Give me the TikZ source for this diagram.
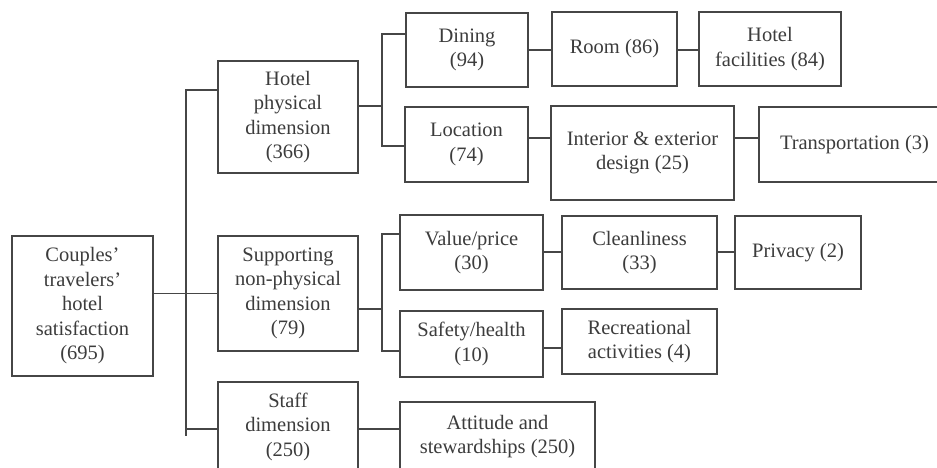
\documentclass[tikz,border=0pt]{standalone}
\usepackage{fontspec}
\setmainfont{Liberation Serif}
\definecolor{ink}{RGB}{60,60,60}
\definecolor{lineink}{RGB}{70,70,70}
\begin{document}
\begin{tikzpicture}[x=1pt,y=-1pt,
  box/.style={draw=lineink, line width=1.3pt, inner sep=0pt, align=center,
    text=ink, font=\fontsize{20.5}{24.5}\selectfont},
  conn/.style={draw=lineink, line width=1.3pt}]
\useasboundingbox (0,0) rectangle (937,467);
% boxes: centre = ((x1+x2)/2,(y1+y2)/2)
\node[box, minimum width=141pt, minimum height=140pt] (couples) at (82.5,306) {Couples’\\travelers’\\hotel\\satisfaction\\(695)};
\node[box, minimum width=140pt, minimum height=112pt] (hotelphys) at (288,117) {Hotel\\physical\\dimension\\(366)};
\node[box, minimum width=140pt, minimum height=115pt] (supp) at (288,293.5) {Supporting\\non-physical\\dimension\\(79)};
\node[box, minimum width=140pt, minimum height=89pt] (staff) at (288,426.5) {Staff\\dimension\\(250)};
\node[box, minimum width=195pt, minimum height=69pt] (attitude) at (497.5,436.5) {Attitude and\\stewardships (250)};
\node[box, minimum width=122pt, minimum height=74pt] (dining) at (467,50) {Dining\\(94)};
\node[box, minimum width=125pt, minimum height=74pt] (room) at (614.5,49) {Room (86)};
\node[box, minimum width=142pt, minimum height=74pt] (hfac) at (770,49) {Hotel\\facilities (84)};
\node[box, minimum width=123pt, minimum height=75pt] (location) at (466.5,144.5) {Location\\(74)};
\node[box, minimum width=183pt, minimum height=94pt] (interior) at (642.5,153) {Interior \& exterior\\design (25)};
\node[box, minimum width=191pt, minimum height=75pt] (transport) at (854.5,144.5) {Transportation (3)};
\node[box, minimum width=143pt, minimum height=75pt] (value) at (471.5,252.5) {Value/price\\(30)};
\node[box, minimum width=155pt, minimum height=73pt] (clean) at (639.5,252.5) {Cleanliness\\(33)};
\node[box, minimum width=126pt, minimum height=73pt] (privacy) at (798,252.5) {Privacy (2)};
\node[box, minimum width=143pt, minimum height=66pt] (safety) at (471.5,344) {Safety/health\\(10)};
\node[box, minimum width=155pt, minimum height=65pt] (recre) at (639.5,341.5) {Recreational\\activities (4)};
% trunk
\coordinate (ttop) at (186,90);
\coordinate (tbot) at (186,436);
\coordinate (tstaff) at (186,429);
\draw[conn] (hotelphys.west |- ttop) -- (ttop) -- (tbot);
\draw[conn] (couples.east |- supp.west) -- (supp.west);
\draw[conn] (tstaff) -- (staff.west |- tstaff);
% hotel physical bracket
\coordinate (hb) at (382,106);
\coordinate (hbt) at (382,34);
\coordinate (hbb) at (382,146);
\draw[conn] (hotelphys.east |- hb) -- (hb);
\draw[conn] (dining.west |- hbt) -- (hbt) -- (hbb) -- (location.west |- hbb);
% supporting bracket
\coordinate (sb) at (382,309);
\coordinate (sbt) at (382,234);
\coordinate (sbb) at (382,351);
\draw[conn] (supp.east |- sb) -- (sb);
\draw[conn] (value.west |- sbt) -- (sbt) -- (sbb) -- (safety.west |- sbb);
% staff to attitude
\coordinate (sa) at (380,429);
\draw[conn] (staff.east |- sa) -- (attitude.west |- sa);
% chains
\coordinate (r1) at (0,50);
\draw[conn] (dining.east |- r1) -- (room.west |- r1);
\draw[conn] (room.east |- r1) -- (hfac.west |- r1);
\coordinate (r2) at (0,138);
\draw[conn] (location.east |- r2) -- (interior.west |- r2);
\draw[conn] (interior.east |- r2) -- (transport.west |- r2);
\coordinate (r3) at (0,252);
\draw[conn] (value.east |- r3) -- (clean.west |- r3);
\draw[conn] (clean.east |- r3) -- (privacy.west |- r3);
\coordinate (r4) at (0,348);
\draw[conn] (safety.east |- r4) -- (recre.west |- r4);
\end{tikzpicture}
\end{document}
